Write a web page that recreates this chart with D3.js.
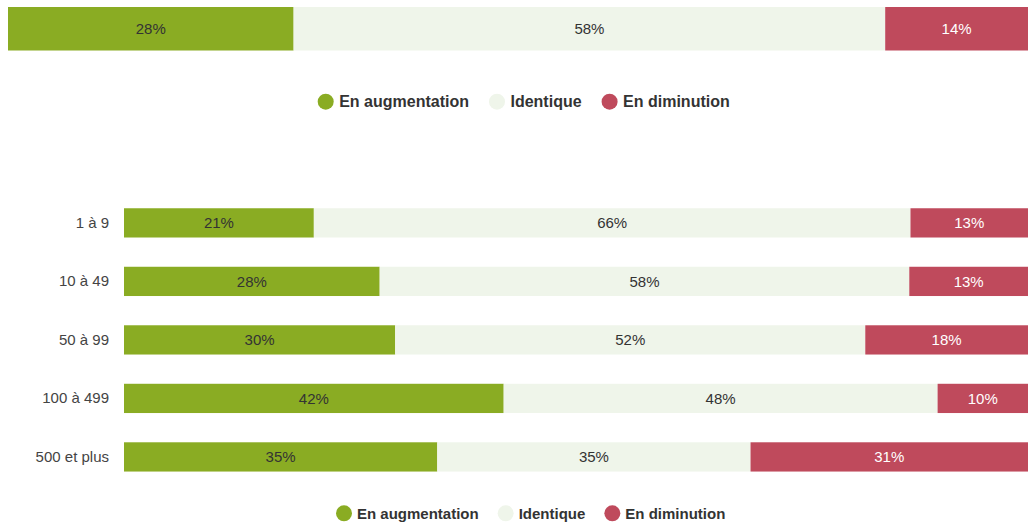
<!DOCTYPE html>
<html>
<head>
<meta charset="utf-8">
<script src="https://cdn.jsdelivr.net/npm/d3@7"></script>
<style>
  body { margin: 0; background: #fff; }
  svg, svg text { font-family: Arial, 'Liberation Sans', Helvetica, sans-serif; }
  svg { display: block; }
</style>
</head>
<body>
<div id="app"></div>
<script>
// data
const keys = ["augm", "ident", "dimin"];
const keyLabels = ["En augmentation", "Identique", "En diminution"];
const colors = ["#8aac23", "#eff5ea", "#bf4a5c"];
const textColors = ["#333", "#333", "#fff"];

const totalAugm = [28];
const totalIdent = [58];
const totalDimin = [14];

const sizes = ["1 à 9", "10 à 49", "50 à 99", "100 à 499", "500 et plus"];
const sizeAugm = [21, 28, 30, 42, 35];
const sizeIdent = [66, 58, 52, 48, 35];
const sizeDimin = [13, 13, 18, 10, 31];

const svg = d3.select("#app")
  .append("svg")
  .attr("width", 1028)
  .attr("height", 526);

function rows(cats, a, b, c) {
  return cats.map((cat, i) => ({ cat: cat, augm: a[i], ident: b[i], dimin: c[i] }));
}

const stack = d3.stack().keys(keys).offset(d3.stackOffsetExpand);

function drawBars(g, data, xScale, yScale) {
  const series = stack(data);
  const layers = g.selectAll("g.layer")
    .data(series)
    .enter()
    .append("g")
    .classed("layer", true)
    .attr("fill", (d, i) => colors[i]);

  layers.selectAll("rect")
    .data(d => d)
    .enter()
    .append("rect")
    .attr("x", d => xScale(d[0]))
    .attr("width", d => xScale(d[1]) - xScale(d[0]))
    .attr("y", d => yScale(d.data.cat))
    .attr("height", yScale.bandwidth());

  const labels = g.selectAll("g.lbl")
    .data(series)
    .enter()
    .append("g")
    .classed("lbl", true)
    .attr("fill", (d, i) => textColors[i]);

  labels.selectAll("text")
    .data(s => s.map(d => ({ d: d, v: d.data[s.key] })))
    .enter()
    .append("text")
    .attr("x", e => (xScale(e.d[0]) + xScale(e.d[1])) / 2)
    .attr("y", e => yScale(e.d.data.cat) + yScale.bandwidth() / 2)
    .attr("dy", "0.35em")
    .attr("text-anchor", "middle")
    .style("font-size", "15px")
    .text(e => e.v + "%");
}

function drawLegend(g, startX, y, fontSize, textOff, gap) {
  let x = startX;
  keyLabels.forEach((lab, i) => {
    g.append("circle")
      .attr("cx", x)
      .attr("cy", y)
      .attr("r", 8)
      .attr("fill", colors[i]);
    const t = g.append("text")
      .attr("x", x + textOff)
      .attr("y", y)
      .attr("dy", "0.35em")
      .attr("fill", "#333")
      .style("font-size", fontSize + "px")
      .style("font-weight", "bold")
      .text(lab);
    x = x + textOff + t.node().getComputedTextLength() + gap + 8;
  });
}

// top chart: all companies
const topData = rows(["Total"], totalAugm, totalIdent, totalDimin);
const xTop = d3.scaleLinear().domain([0, 1]).range([8, 1028]);
const yTop = d3.scaleBand().domain(["Total"]).range([7, 50.5]);
drawBars(svg.append("g"), topData, xTop, yTop);
drawLegend(svg.append("g"), 325.7, 101.7, 16, 13.5, 20);

// bottom chart: by company size
const sizeData = rows(sizes, sizeAugm, sizeIdent, sizeDimin);
const xSize = d3.scaleLinear().domain([0, 1]).range([124, 1028]);
const ySize = d3.scaleBand().domain(sizes).range([179, 500.8]).padding(0.5);
const gSize = svg.append("g");
drawBars(gSize, sizeData, xSize, ySize);

const yAxis = gSize.append("g")
  .attr("transform", "translate(124,0)")
  .call(d3.axisLeft(ySize).tickSize(0).tickPadding(15));
yAxis.select(".domain").remove();
yAxis.attr("font-family", null);
yAxis.selectAll("text")
  .attr("fill", "#444")
  .style("font-size", "15px");

drawLegend(svg.append("g"), 344, 513.3, 15, 13, 19);
</script>
</body>
</html>
